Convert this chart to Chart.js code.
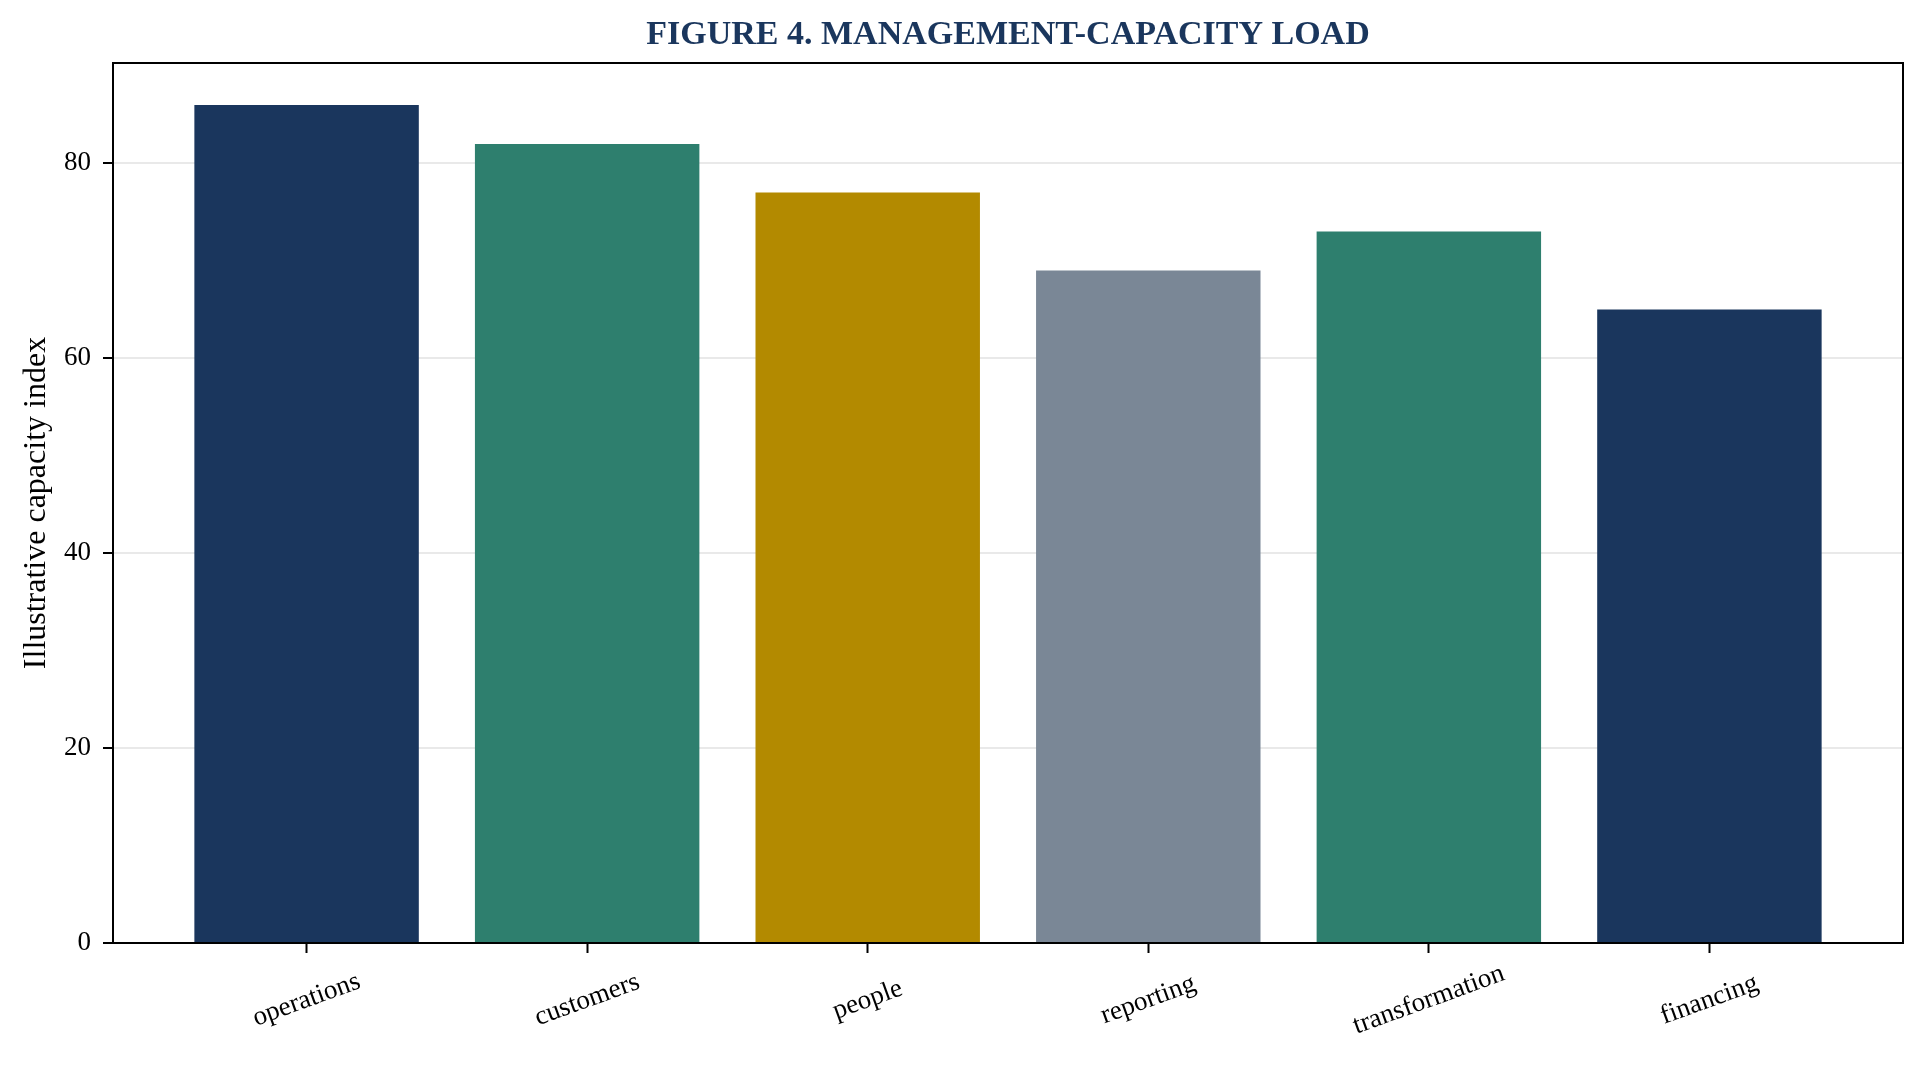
<!DOCTYPE html>
<html>
<head>
<meta charset="utf-8">
<script src="https://cdn.jsdelivr.net/npm/chart.js@4/dist/chart.umd.min.js"></script>
<style>
  html, body { margin: 0; padding: 0; background: #fff; }
  #wrap { width: 1924px; height: 1073px; }
</style>
</head>
<body>
<div id="wrap"><canvas id="chart" width="1924" height="1073"></canvas></div>
<script>
const categories = ['operations', 'customers', 'people', 'reporting', 'transformation', 'financing'];
const capacityIndex = [86, 82, 77, 69, 73, 65];
const yTicks = [0, 20, 40, 60, 80];

const barColors = ['#1a365d', '#2e7f6e', '#b38a00', '#7a8796', '#2e7f6e', '#1a365d'];
const serif = '"Liberation Serif", "Times New Roman", serif';

// frame, title and centred rotated category labels
const decor = {
    id: 'decor',
    afterDraw(chart) {
        const { ctx, chartArea: a, scales } = chart;
        ctx.save();
        ctx.strokeStyle = '#000';
        ctx.lineWidth = 2;
        ctx.strokeRect(a.left, a.top, a.right - a.left, a.bottom - a.top);

        ctx.fillStyle = '#1a365d';
        ctx.font = 'bold 34px ' + serif;
        ctx.textAlign = 'center';
        ctx.textBaseline = 'alphabetic';
        ctx.fillText('FIGURE 4. MANAGEMENT-CAPACITY LOAD', (a.left + a.right) / 2, 44);

        ctx.fillStyle = '#000';
        ctx.font = '27px ' + serif;
        ctx.textBaseline = 'middle';
        categories.forEach((c, i) => {
            const x = scales.x.getPixelForValue(i);
            ctx.save();
            ctx.translate(x, a.bottom + 57);
            ctx.rotate(-20 * Math.PI / 180);
            ctx.fillText(c, 0, 0);
            ctx.restore();
        });
        ctx.restore();
    }
};

new Chart(document.getElementById('chart').getContext('2d'), {
    type: 'bar',
    data: {
        datasets: [{
            data: capacityIndex.map((v, i) => ({ x: i, y: v })),
            backgroundColor: barColors,
            borderWidth: 0,
            categoryPercentage: 1,
            barPercentage: 0.8
        }]
    },
    options: {
        responsive: false,
        animation: false,
        devicePixelRatio: 1,
        layout: { padding: { top: 63, right: 21, left: 0, bottom: 0 } },
        plugins: { legend: { display: false }, tooltip: { enabled: false } },
        scales: {
            x: {
                type: 'linear',
                offset: false,
                min: -0.69,
                max: 5.69,
                z: 1,
                afterBuildTicks: s => { s.ticks = categories.map((c, i) => ({ value: i })); },
                afterFit: s => { s.height = 130; },
                border: { display: false },
                grid: {
                    offset: false,
                    drawOnChartArea: false,
                    tickLength: 10,
                    tickWidth: 2,
                    tickColor: '#000'
                },
                ticks: { display: false }
            },
            y: {
                min: 0,
                max: 90.3,
                z: 1,
                afterBuildTicks: s => { s.ticks = yTicks.map(v => ({ value: v })); },
                afterFit: s => { s.width = 113; },
                border: { display: false },
                grid: {
                    color: 'rgba(176,176,176,0.28)',
                    lineWidth: 2,
                    tickLength: 10,
                    tickWidth: 2,
                    tickColor: '#000'
                },
                ticks: {
                    color: '#000',
                    padding: 12,
                    font: { family: serif, size: 27 }
                },
                title: {
                    display: true,
                    text: 'Illustrative capacity index',
                    color: '#000',
                    font: { family: serif, size: 32 },
                    padding: { top: 17, bottom: 0 }
                }
            }
        }
    },
    plugins: [decor]
});
</script>
</body>
</html>
